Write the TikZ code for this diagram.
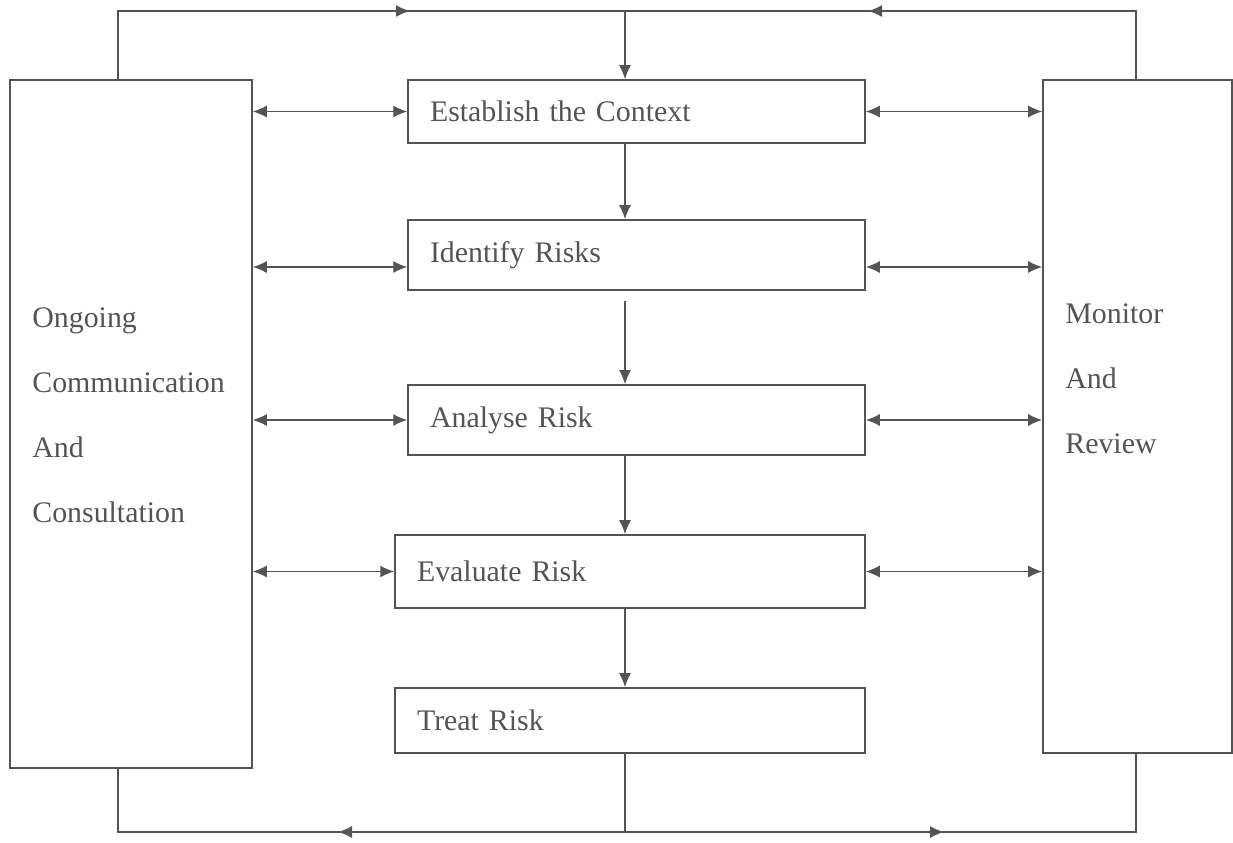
\documentclass[tikz,border=0pt]{standalone}
\usepackage{fontspec}
\setmainfont{Liberation Serif}
\usetikzlibrary{positioning, calc, arrows.meta}
\definecolor{ink}{HTML}{545454}

\begin{document}
\begin{tikzpicture}[
    x=0.02cm, y=-0.02cm,
    step box/.style={rectangle, draw=ink, line width=0.9pt, inner xsep=0.44cm, inner ysep=0pt, align=left, font=\fontsize{17pt}{20pt}\selectfont, text=ink},
    side box/.style={rectangle, draw=ink, line width=0.9pt, inner sep=0pt},
    side text/.style={anchor=west, inner sep=0pt, align=left, font=\fontsize{17pt}{37pt}\selectfont, text=ink},
    line/.style={draw=ink, line width=0.8pt},
    directed/.style={line, -{Latex[length=0.28cm, width=0.24cm]}},
    both/.style={line, {Latex[length=0.28cm, width=0.24cm]}-{Latex[length=0.28cm, width=0.24cm]}}
]
\useasboundingbox (0,0) rectangle (1233,842);

% Seitliche Kaesten
\node[side box, minimum width=4.84cm, minimum height=13.76cm] (consult) at (131,424) {};
\node[side box, minimum width=3.78cm, minimum height=13.46cm] (monitor) at (1137.5,416.5) {};
\node[side text] (consulttext) at (32,415) {Ongoing\\Communication\\And\\Consultation};
\node[side text] (monitortext) at (1065,379) {Monitor\\And\\Review};

% Schritte in der Mitte
\node[step box, text width=8.26cm, minimum height=1.26cm] (context) at (636.5,111.5) {Establish the Context};
\node[step box, text width=8.26cm, minimum height=1.40cm] (identify) at (636.5,255) {Identify Risks};
\node[step box, text width=8.26cm, minimum height=1.40cm] (analyse) at (636.5,420) {Analyse Risk};
\node[step box, text width=8.52cm, minimum height=1.46cm] (evaluate) at (630,571.5) {Evaluate Risk};
\node[step box, text width=8.52cm, minimum height=1.30cm] (treat) at (630,720.5) {Treat Risk};

% Hilfspunkte
\coordinate (spine) at (625,0);
\coordinate (topL) at (118,11);
\coordinate (topR) at (1136,11);
\coordinate (topM) at (625,11);
\coordinate (topA) at (410,11);
\coordinate (topB) at (868,11);
\coordinate (botL) at (118,832);
\coordinate (botR) at (1136,832);
\coordinate (botM) at (625,832);
\coordinate (botA) at (338,832);
\coordinate (botB) at (944,832);

% Senkrechte Pfeile
\draw[directed] (context.south -| spine) -- (identify.north -| spine);
\draw[directed] ([yshift=-0.2cm]identify.south -| spine) -- (analyse.north -| spine);
\draw[directed] (analyse.south -| spine) -- (evaluate.north -| spine);
\draw[directed] (evaluate.south -| spine) -- (treat.north -| spine);

% Doppelpfeile links und rechts
\draw[both] (consult.east |- context.west) -- (context.west);
\draw[both] (context.east) -- (monitor.west |- context.east);
\draw[both] ([yshift=-0.24cm]consult.east |- identify.west) -- ([yshift=-0.24cm]identify.west);
\draw[both] ([yshift=-0.24cm]identify.east) -- ([yshift=-0.24cm]monitor.west |- identify.east);
\draw[both] (consult.east |- analyse.west) -- (analyse.west);
\draw[both] (analyse.east) -- (monitor.west |- analyse.east);
\draw[both] (consult.east |- evaluate.west) -- (evaluate.west);
\draw[both] (evaluate.east) -- (monitor.west |- evaluate.east);

% Rueckkopplung oben
\draw[line] (consult.north -| topL) -- (topL) -- (topR) -- (monitor.north -| topR);
\draw[directed] (topL) -- (topA);
\draw[directed] (topR) -- (topB);
\draw[directed] (topM) -- (context.north -| topM);

% Rueckkopplung unten
\draw[line] (consult.south -| botL) -- (botL) -- (botR) -- (monitor.south -| botR);
\draw[line] (treat.south -| botM) -- (botM);
\draw[directed] (botM) -- (botA);
\draw[directed] (botM) -- (botB);

\end{tikzpicture}
\end{document}
